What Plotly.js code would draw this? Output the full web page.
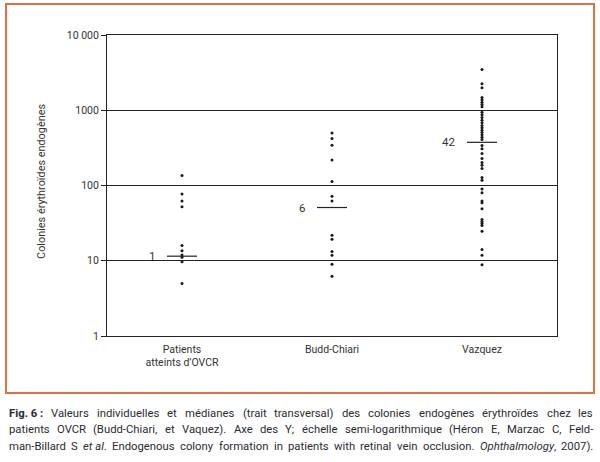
<!DOCTYPE html>
<html>
<head>
<meta charset="utf-8">
<script src="https://cdn.plot.ly/plotly-3.0.1.min.js"></script>
<style>
html, body { margin: 0; padding: 0; background: #ffffff; }
#chart { width: 600px; height: 462px; }
</style>
</head>
<body>
<div id="chart"></div>
<script>
// ---- Data ----
const categories = ["Patients<br>atteints d’OVCR", "Budd-Chiari", "Vazquez"];
const ovcr = [136, 77, 62, 52, 15.9, 13.6, 11.9, 11.1, 9.7, 5.0];
const buddChiari = [499, 420, 342, 219, 113, 72, 62, 21.8, 19.3, 13.3, 11.8, 9.0, 6.2];
const vazquez = [3475, 2243, 1984, 1475, 1374, 1277, 1190, 1110,
                 941, 869, 800, 737, 680,
                 626, 584, 543, 506, 471, 438, 408,
                 340, 307, 266, 228, 202, 186, 168, 128, 117,
                 90, 80, 62, 59, 49,
                 35.4, 33.2, 31.3, 29.4,
                 24.7,
                 14.1, 11.8, 8.85];
const medians = [11.5, 51, 375];
const medianLabels = ["1", "6", "42"];
const yTickVals = [1, 10, 100, 1000, 10000];
const yTickText = ["1", "10", "100", "1000", "10 000"];
const yTitle = "Colonies érythroïdes endogènes";
// caption lines; words marked [b] bold, [i]..[/i] italic
const captionLines = [
  "[b]Fig. 6 :|Valeurs|individuelles|et|médianes|(trait|transversal)|des|colonies|endogènes|érythroïdes|chez|les",
  "patients|OVCR|(Budd-Chiari,|et|Vaquez).|Axe|des|Y;|échelle|semi-logarithmique|(Héron|E,|Marzac|C,|Feld-",
  "man-Billard|S|[i]et al[/i].|Endogenous|colony|formation|in|patients|with|retinal|vein|occlusion.|[i]Ophthalmology[/i],|2007)."
];

// ---- Build traces ----
const groups = [ovcr, buddChiari, vazquez];
const traces = [];
groups.forEach((vals, i) => {
  traces.push({
    type: "scatter", mode: "markers",
    x: vals.map(() => i), y: vals,
    marker: { color: "#1a1a1a", size: 3 },
    hoverinfo: "y", showlegend: false
  });
});
const halfW = 0.1;
medians.forEach((m, i) => {
  traces.push({
    type: "scatter", mode: "lines",
    x: [i - halfW, i + halfW], y: [m, m],
    line: { color: "#222222", width: 1.2 },
    hoverinfo: "skip", showlegend: false
  });
});

const fam = "Roboto";
const font = "Roboto, 'Open Sans', sans-serif";
const ctx = document.createElement("canvas").getContext("2d");

const annotations = medians.map((m, i) => ({
  x: i - 0.165, y: Math.log10(m), xref: "x", yref: "y",
  text: medianLabels[i], showarrow: false, xanchor: "right", yanchor: "middle",
  font: { family: font, size: 11.5, color: "#333333" }
}));
// y title: fit to the span it takes in the reference (~155 px)
ctx.font = "10px " + fam;
const titleSize = Math.min(11.5, 10 * 155 / ctx.measureText(yTitle).width);
annotations.push({
  x: -0.1444, y: 0.512, xref: "paper", yref: "paper",
  text: yTitle, textangle: -90, showarrow: false,
  xanchor: "center", yanchor: "middle",
  font: { family: font, size: titleSize, color: "#333333" }
});

// ---- justified caption, word by word ----
const L = 107, PW = 450, B = 336, PH = 301;
const capLeft = 8, capRight = 592, capSize = 11.3;
const capY = [413, 429.5, 446];
captionLines.forEach((line, k) => {
  const words = line.split("|").map(w => {
    let bold = false, ital = false, html = w;
    if (w.startsWith("[b]")) { bold = true; w = w.slice(3); html = "<b>" + w + "</b>"; }
    let plain = w;
    if (w.includes("[i]")) {
      ital = true;
      plain = w.replace("[i]", "").replace("[/i]", "");
      html = w.replace("[i]", "<i>").replace("[/i]", "</i>");
    }
    ctx.font = (ital ? "italic " : "") + (bold ? "bold " : "") + capSize + "px " + fam;
    return { html, width: ctx.measureText(plain).width };
  });
  const sum = words.reduce((a, w) => a + w.width, 0);
  const gap = (capRight - capLeft - sum) / (words.length - 1);
  let xpos = capLeft;
  words.forEach(w => {
    annotations.push({
      x: (xpos - L) / PW, y: (B - capY[k]) / PH, xref: "paper", yref: "paper",
      text: w.html, showarrow: false, xanchor: "left", yanchor: "middle",
      borderpad: 0, font: { family: font, size: capSize, color: "#2b2b33" }
    });
    xpos += w.width + gap;
  });
});

const layout = {
  width: 600, height: 462,
  margin: { l: 107, r: 43, t: 35, b: 126 },
  paper_bgcolor: "#ffffff", plot_bgcolor: "#ffffff",
  showlegend: false,
  xaxis: {
    range: [-0.5, 2.5],
    tickvals: [0, 1, 2], ticktext: categories,
    showgrid: false, zeroline: false,
    showline: true, mirror: true, linecolor: "#222222", linewidth: 1,
    ticks: "", ticklabelstandoff: 3,
    tickfont: { family: font, size: 10.5, color: "#333333" },
    fixedrange: true
  },
  yaxis: {
    type: "log", range: [0, 4],
    tickvals: yTickVals, ticktext: yTickText,
    showgrid: true, gridcolor: "#222222", gridwidth: 1,
    zeroline: false,
    showline: true, mirror: true, linecolor: "#222222", linewidth: 1,
    ticks: "outside", ticklen: 5, tickcolor: "#222222",
    tickfont: { family: font, size: 10.5, color: "#333333" },
    fixedrange: true
  },
  annotations: annotations,
  shapes: [{
    type: "rect", xref: "paper", yref: "paper",
    x0: (6 - 107) / 450, x1: (594 - 107) / 450,
    y0: (336 - 393) / 301, y1: (336 - 4) / 301,
    line: { color: "#e2703f", width: 2 }, fillcolor: "rgba(0,0,0,0)",
    layer: "below"
  }]
};

Plotly.newPlot("chart", traces, layout, { displayModeBar: false, staticPlot: true });
</script>
</body>
</html>
